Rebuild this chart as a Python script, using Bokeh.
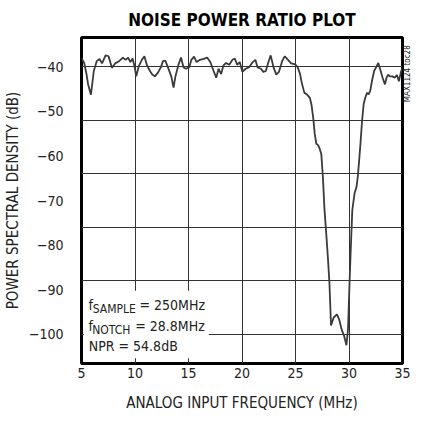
import math
from bokeh.plotting import figure
from bokeh.models import (Range1d, FixedTicker, Label, BoxAnnotation, LinearAxis,
                          PrintfTickFormatter, Title)
from bokeh.embed import file_html
from bokeh.resources import INLINE

# ---- data ----
freq_mhz = [5.02, 5.25, 5.45, 5.62, 5.88, 6.15, 6.42, 6.68, 6.92, 7.25, 7.53, 7.84, 8.14, 8.51,
            8.87, 9.12, 9.36, 9.57, 9.78, 9.97, 10.12, 10.34, 10.64, 10.88, 11.10, 11.40, 11.61,
            11.86, 12.16, 12.41, 12.62, 12.84, 13.08, 13.39, 13.60, 13.78, 14.06, 14.30, 14.54,
            14.76, 15.06, 15.27, 15.52, 15.76, 16.07, 16.43, 16.74, 17.04, 17.35, 17.59, 17.81,
            18.05, 18.26, 18.51, 18.81, 19.11, 19.33, 19.54, 19.79, 20.03, 20.34, 20.64, 21.01,
            21.25, 21.46, 21.77, 21.99, 22.23, 22.47, 22.68, 22.95, 23.20, 23.45, 23.75, 24.00,
            24.30, 24.60, 24.97, 25.21, 25.43, 25.58, 25.83, 26.04, 26.34, 26.49, 26.65, 26.80,
            26.95, 27.11, 27.26, 27.41, 27.56, 27.71, 27.87, 28.02, 28.17, 28.32, 28.57, 28.87,
            29.08, 29.30, 29.54, 29.76, 29.91, 30.03, 30.15, 30.31, 30.52, 30.70, 30.82, 30.95,
            31.07, 31.22, 31.37, 31.52, 31.68, 31.83, 31.98, 32.14, 32.35, 32.53, 32.74, 32.96,
            33.14, 33.36, 33.51, 33.66, 33.81, 34.06, 34.27, 34.48, 34.66, 34.88, 34.98]
psd_db = [-38.2, -39.2, -41.5, -44.0, -46.3, -41.0, -38.8, -38.3, -39.3, -37.5, -37.7, -40.3,
          -39.3, -38.8, -38.0, -38.5, -38.0, -39.0, -38.2, -40.2, -42.2, -40.0, -38.5, -37.7,
          -39.6, -41.0, -41.8, -42.2, -41.3, -40.2, -38.8, -38.7, -40.2, -42.2, -44.7, -42.2,
          -39.6, -38.0, -40.2, -40.5, -40.2, -38.5, -37.8, -39.0, -38.5, -38.3, -38.0, -39.0,
          -41.0, -42.5, -40.5, -41.7, -39.8, -39.2, -39.6, -38.5, -38.2, -39.6, -39.0, -41.2,
          -40.5, -40.2, -39.0, -38.5, -40.2, -40.5, -41.2, -41.0, -39.0, -37.5, -40.2, -41.8,
          -41.2, -38.8, -37.7, -38.5, -39.3, -39.5, -40.2, -41.7, -43.6, -45.9, -46.2, -47.0,
          -48.5, -51.4, -55.1, -57.3, -57.6, -58.4, -59.6, -64.7, -72.1, -77.3, -82.5, -88.4,
          -98.0, -96.2, -95.5, -96.6, -98.8, -100.3, -102.4, -98.8, -89.9, -81.8, -72.1, -68.4,
          -67.0, -64.7, -61.0, -57.3, -52.2, -48.4, -47.0, -45.9, -46.2, -45.5, -43.3, -41.0,
          -40.2, -39.2, -41.0, -42.5, -44.0, -42.5, -41.8, -42.2, -42.2, -42.5, -41.9, -43.3,
          -41.0, -40.5]

x_ticks = [5, 10, 15, 20, 25, 30, 35]
x_grid = [10, 15, 20, 25, 30]
y_ticks = [-40, -50, -60, -70, -80, -90, -100]
y_grid = [-40, -52, -64, -76, -88, -100]

title_text = "NOISE POWER RATIO PLOT"
x_label = "ANALOG INPUT FREQUENCY (MHz)"
y_label = "POWER SPECTRAL DENSITY (dB)"
side_note = "MAX1124 toc28"
notes = [("f", "SAMPLE", "= 250MHz"), ("f", "NOTCH", "= 28.8MHz"), ("NPR = 54.8dB", "", "")]

FONT = "DejaVu Sans Condensed, Liberation Sans, sans-serif"
TXT = "#222222"

p = figure(width=419, height=415, output_backend="svg", toolbar_location=None,
           x_range=Range1d(5, 35), y_range=Range1d(-106.5, -33.5),
           min_border_left=77, min_border_right=15, min_border_top=35, min_border_bottom=52)
p.background_fill_color = "white"
p.border_fill_color = "white"
p.outline_line_color = "black"
p.outline_line_width = 3

p.title = Title(text=title_text, align="center", text_font=FONT, text_font_size="17px",
                text_font_style="bold", text_color="black", standoff=15)

for ax in (p.xaxis[0], p.yaxis[0]):
    ax.axis_line_color = None
    ax.major_tick_line_color = None
    ax.minor_tick_line_color = None
    ax.major_tick_out = 0
    ax.major_tick_in = 0
    ax.major_label_text_font = FONT
    ax.major_label_text_font_size = "14px"
    ax.major_label_text_color = TXT
    ax.axis_label_text_font = FONT
    ax.axis_label_text_font_size = "15px"
    ax.axis_label_text_font_style = "normal"
    ax.axis_label_text_color = TXT

p.xaxis.ticker = FixedTicker(ticks=x_ticks)
p.yaxis.ticker = FixedTicker(ticks=y_ticks)
p.xaxis.axis_label = x_label
p.yaxis.axis_label = y_label
p.xaxis.major_label_standoff = 4
p.xaxis.axis_label_standoff = 13
p.yaxis.major_label_standoff = 18
p.yaxis.axis_label_standoff = 4

# right-hand side note: the single label of a bare axis, reading upwards
side_axis = LinearAxis(ticker=FixedTicker(ticks=[-48.0]),
                       formatter=PrintfTickFormatter(format=side_note),
                       major_label_orientation=math.pi / 2, major_label_standoff=5,
                       axis_line_color=None, major_tick_line_color=None,
                       minor_tick_line_color=None, major_tick_out=0, major_tick_in=0,
                       major_label_text_font=FONT, major_label_text_font_size="8px",
                       major_label_text_color=TXT)
p.add_layout(side_axis, "right")

p.xgrid.ticker = FixedTicker(ticks=x_grid)
p.ygrid.ticker = FixedTicker(ticks=y_grid)
for g in (p.xgrid[0], p.ygrid[0]):
    g.grid_line_color = "#333333"
    g.grid_line_width = 1

p.line(freq_mhz, psd_db, line_color="#3a3a3a", line_width=1.8)

# white box behind the notes (covers the grid, stays under the text)
p.add_layout(BoxAnnotation(left=5.22, right=16.9, top=-90.2, bottom=-105.3,
                           fill_color="white", fill_alpha=1.0, line_color=None, level="glyph"))

line_y = [-93.4, -98.1, -102.6]
main_x = [5.66, 5.66, 5.68]
sub_x = [6.05, 6.0]
rest_x = [10.42, 10.02]
for i, (a, sub, rest) in enumerate(notes):
    p.add_layout(Label(x=main_x[i], y=line_y[i], text=a, text_font=FONT, text_font_size="14px",
                       text_color=TXT, text_align="left", text_baseline="middle"))
    if sub:
        p.add_layout(Label(x=sub_x[i], y=line_y[i] - 0.9, text=sub, text_font=FONT,
                           text_font_size="12px", text_color=TXT, text_align="left",
                           text_baseline="middle"))
        p.add_layout(Label(x=rest_x[i], y=line_y[i], text=rest, text_font=FONT,
                           text_font_size="14px", text_color=TXT, text_align="left",
                           text_baseline="middle"))

open("out.html", "w").write(file_html(p, INLINE))
